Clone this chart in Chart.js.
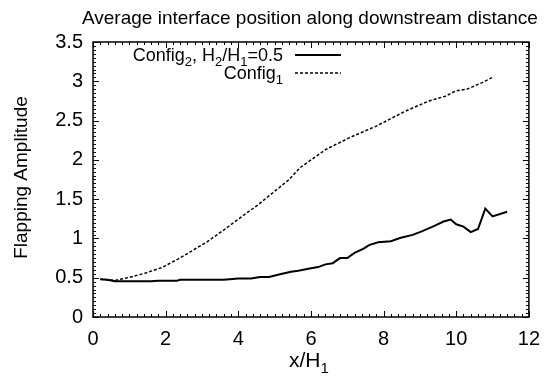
<!DOCTYPE html>
<html>
<head>
<meta charset="utf-8">
<script src="https://cdn.jsdelivr.net/npm/chart.js@4.4.1/dist/chart.umd.min.js"></script>
<style>
  html, body { margin: 0; padding: 0; background: #fff; }
  #wrap { width: 550px; height: 376px; }
</style>
</head>
<body>
<div id="wrap"><canvas id="myChart" width="550" height="376"></canvas></div>
<script>
'use strict';
// Config2 (H2/H1 = 0.5) - solid line
const config2X = [0.2, 0.4, 0.6, 1.6, 1.8, 2.3, 2.4, 3.6, 4.0, 4.35, 4.6, 4.85, 5.15, 5.45, 5.65, 6.0, 6.2, 6.4, 6.6, 6.8, 7.0, 7.2, 7.45, 7.6, 7.85, 8.2, 8.45, 8.8, 9.05, 9.4, 9.65, 9.85, 10.0, 10.2, 10.4, 10.6, 10.8, 11.0, 11.4];
const config2Y = [0.48, 0.475, 0.455, 0.455, 0.46, 0.46, 0.475, 0.475, 0.49, 0.49, 0.51, 0.51, 0.545, 0.575, 0.59, 0.62, 0.635, 0.67, 0.685, 0.75, 0.75, 0.815, 0.87, 0.915, 0.95, 0.965, 1.005, 1.045, 1.09, 1.16, 1.215, 1.24, 1.18, 1.15, 1.08, 1.12, 1.38, 1.28, 1.34];
// Config1 - dashed line
const config1X = [0.2, 0.6, 1.0, 1.45, 1.9, 2.35, 2.7, 3.15, 3.55, 4.1, 4.55, 5.0, 5.4, 5.7, 6.4, 7.05, 7.8, 8.6, 9.25, 9.7, 10.0, 10.3, 10.7, 11.0];
const config1Y = [0.48, 0.465, 0.505, 0.56, 0.63, 0.74, 0.835, 0.96, 1.09, 1.28, 1.43, 1.6, 1.75, 1.9, 2.13, 2.28, 2.43, 2.62, 2.75, 2.81, 2.88, 2.9, 2.98, 3.05];

const xTicks = [0, 2, 4, 6, 8, 10, 12];
const yTicks = [0, 0.5, 1, 1.5, 2, 2.5, 3, 3.5];

const titleText = 'Average interface position along downstream distance';
const yTitle = 'Flapping Amplitude';
// text pieces, sub = subscript
const xTitle = [{ t: 'x/H' }, { t: '1', sub: true }];
const legendRows = [
  [{ t: 'Config' }, { t: '2', sub: true }, { t: ', H' }, { t: '2', sub: true }, { t: '/H' }, { t: '1', sub: true }, { t: '=0.5' }],
  [{ t: 'Config' }, { t: '1', sub: true }]
];

const FONT = '"Liberation Sans", Arial, Helvetica, sans-serif';

function toPoints(xs, ys) {
  const pts = [];
  for (let i = 0; i < xs.length; i++) pts.push({ x: xs[i], y: ys[i] });
  return pts;
}

// draw text with subscripts; align 'left' | 'center' | 'right'
function drawRich(ctx, parts, x, y, size, align) {
  const subSize = Math.round(size * 0.7);
  let w = 0;
  for (const p of parts) {
    ctx.font = (p.sub ? subSize : size) + 'px ' + FONT;
    w += ctx.measureText(p.t).width;
  }
  let cx = x;
  if (align === 'right') cx = x - w;
  else if (align === 'center') cx = x - w / 2;
  ctx.textAlign = 'left';
  ctx.textBaseline = 'alphabetic';
  for (const p of parts) {
    ctx.font = (p.sub ? subSize : size) + 'px ' + FONT;
    ctx.fillText(p.t, cx, p.sub ? y + size * 0.3 : y);
    cx += ctx.measureText(p.t).width;
  }
}

const framePlugin = {
  id: 'frame',
  beforeDraw(chart) {
    const ctx = chart.ctx;
    ctx.save();
    ctx.fillStyle = '#fff';
    ctx.fillRect(0, 0, chart.width, chart.height);
    ctx.restore();
  },
  afterDraw(chart) {
    const ctx = chart.ctx;
    const a = chart.chartArea;
    const xs = chart.scales.x, ys = chart.scales.y;
    ctx.save();
    ctx.strokeStyle = '#000';
    ctx.fillStyle = '#000';

    // ticks on all four sides, pointing inward
    ctx.lineWidth = 1;
    ctx.beginPath();
    for (let v = 0; v <= 12.0001; v += 0.2) {
      const px = Math.round(xs.getPixelForValue(v)) + 0.5;
      const major = Math.abs(v / 2 - Math.round(v / 2)) < 1e-6;
      const len = major ? 6 : 3;
      ctx.moveTo(px, a.bottom); ctx.lineTo(px, a.bottom - len);
      ctx.moveTo(px, a.top); ctx.lineTo(px, a.top + len);
    }
    for (let v = 0; v <= 3.5001; v += 0.05) {
      const py = Math.round(ys.getPixelForValue(v)) + 0.5;
      const major = Math.abs(v / 0.5 - Math.round(v / 0.5)) < 1e-6;
      const len = major ? 6 : 3;
      ctx.moveTo(a.left, py); ctx.lineTo(a.left + len, py);
      ctx.moveTo(a.right, py); ctx.lineTo(a.right - len, py);
    }
    ctx.stroke();

    // box
    ctx.lineWidth = 1.5;
    ctx.strokeRect(a.left, a.top, a.right - a.left, a.bottom - a.top);

    // title
    ctx.font = '19px ' + FONT;
    ctx.textAlign = 'center';
    ctx.textBaseline = 'alphabetic';
    ctx.fillText(titleText, (a.left + a.right) / 2 - 1, 24);

    // axis titles
    drawRich(ctx, xTitle, (a.left + a.right) / 2 - 2, 367, 21, 'center');
    ctx.save();
    ctx.translate(27, (a.top + a.bottom) / 2 - 2);
    ctx.rotate(-Math.PI / 2);
    ctx.font = '19px ' + FONT;
    ctx.textAlign = 'center';
    ctx.textBaseline = 'alphabetic';
    ctx.fillText(yTitle, 0, 0);
    ctx.restore();

    // legend: text right-aligned, sample line to the right
    const ds = chart.data.datasets;
    const rowY = [61, 79];
    for (let i = 0; i < legendRows.length; i++) {
      drawRich(ctx, legendRows[i], 283, rowY[i], 18, 'right');
      ctx.beginPath();
      ctx.lineWidth = ds[i].borderWidth;
      ctx.setLineDash(ds[i].borderDash || []);
      ctx.moveTo(295, rowY[i] - 6);
      ctx.lineTo(341, rowY[i] - 6);
      ctx.stroke();
      ctx.setLineDash([]);
    }
    ctx.restore();
  }
};

const data = {
  datasets: [
    {
      label: 'Config2, H2/H1=0.5',
      data: toPoints(config2X, config2Y),
      borderColor: '#000',
      borderWidth: 2,
      pointRadius: 0,
      tension: 0
    },
    {
      label: 'Config1',
      data: toPoints(config1X, config1Y),
      borderColor: '#000',
      borderWidth: 1.5,
      borderDash: [3, 2],
      pointRadius: 0,
      tension: 0
    }
  ]
};

const config = {
  type: 'line',
  data: data,
  options: {
    responsive: false,
    animation: false,
    devicePixelRatio: 1,
    layout: { padding: { top: 42, right: 15, left: 0, bottom: 0 } },
    plugins: {
      legend: { display: false },
      title: { display: false },
      tooltip: { enabled: false }
    },
    scales: {
      x: {
        type: 'linear',
        min: 0,
        max: 12,
        afterFit(scale) { scale.height = 59; },
        afterBuildTicks(scale) { scale.ticks = xTicks.map(v => ({ value: v })); },
        grid: { display: false, drawTicks: false },
        border: { display: false },
        ticks: {
          color: '#000',
          padding: 10,
          maxRotation: 0,
          font: { family: FONT, size: 20 },
          callback: v => String(v)
        }
      },
      y: {
        type: 'linear',
        min: 0,
        max: 3.5,
        afterFit(scale) { scale.width = 93; },
        afterBuildTicks(scale) { scale.ticks = yTicks.map(v => ({ value: v })); },
        grid: { display: false, drawTicks: false },
        border: { display: false },
        ticks: {
          color: '#000',
          padding: 10,
          font: { family: FONT, size: 20 },
          callback: v => String(v)
        }
      }
    }
  },
  plugins: [framePlugin]
};

const myChart = new Chart(document.getElementById('myChart'), config);
</script>
</body>
</html>
